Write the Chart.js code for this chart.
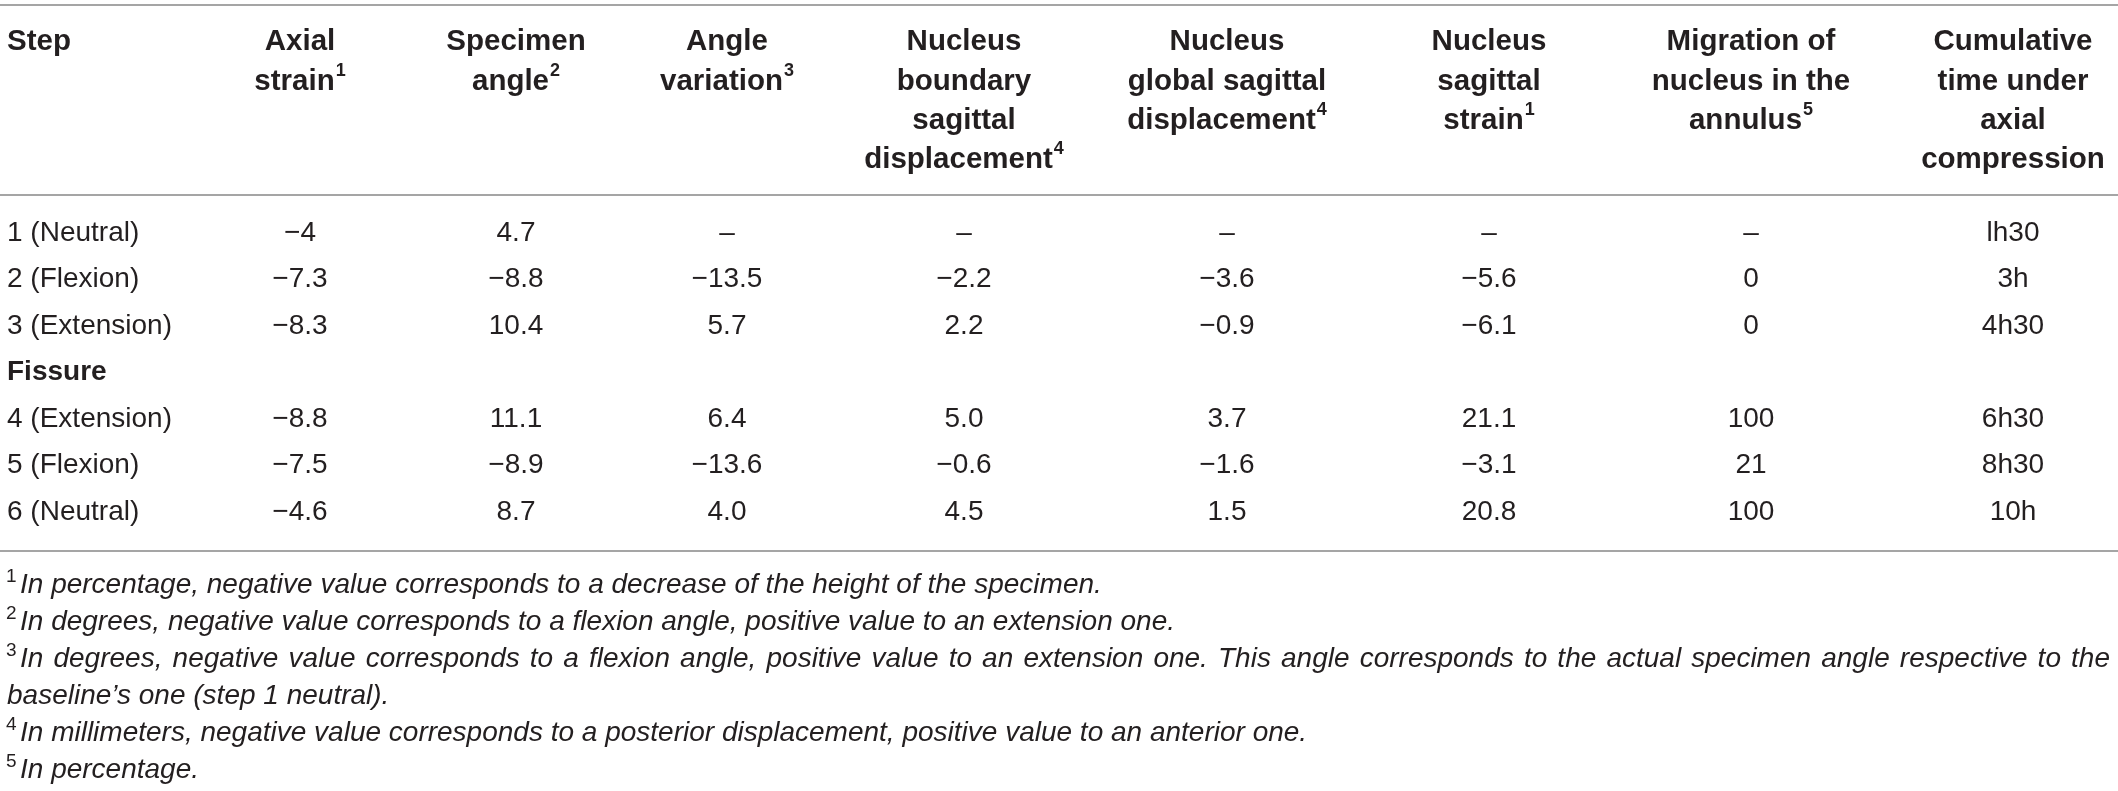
<!DOCTYPE html>
<html>
<head>
<meta charset="utf-8">
<script src="https://cdn.jsdelivr.net/npm/chart.js@4.4.0/dist/chart.umd.min.js"></script>
<style>
  html, body { margin: 0; padding: 0; background: #fff; }
  #wrap { width: 2118px; height: 791px; }
</style>
</head>
<body>
<div id="wrap"><canvas id="table" width="2118" height="791"></canvas></div>
<script>
// table data
const steps = ['1 (Neutral)', '2 (Flexion)', '3 (Extension)', 'Fissure', '4 (Extension)', '5 (Flexion)', '6 (Neutral)'];
const axialStrain = [-4, -7.3, -8.3, null, -8.8, -7.5, -4.6];
const specimenAngle = [4.7, -8.8, 10.4, null, 11.1, -8.9, 8.7];
const angleVariation = [null, -13.5, 5.7, null, 6.4, -13.6, 4.0];
const boundaryDisplacement = [null, -2.2, 2.2, null, 5.0, -0.6, 4.5];
const globalDisplacement = [null, -3.6, -0.9, null, 3.7, -1.6, 1.5];
const sagittalStrain = [null, -5.6, -6.1, null, 21.1, -3.1, 20.8];
const migration = [null, 0, 0, null, 100, 21, 100];
const cumulativeTime = ['lh30', '3h', '4h30', null, '6h30', '8h30', '10h'];
const groupRows = ['Fissure'];

// header lines, [text, superscript]
const headers = [
  [['Step', '']],
  [['Axial', ''], ['strain', '1']],
  [['Specimen', ''], ['angle', '2']],
  [['Angle', ''], ['variation', '3']],
  [['Nucleus', ''], ['boundary', ''], ['sagittal', ''], ['displacement', '4']],
  [['Nucleus', ''], ['global sagittal', ''], ['displacement', '4']],
  [['Nucleus', ''], ['sagittal', ''], ['strain', '1']],
  [['Migration of', ''], ['nucleus in the', ''], ['annulus', '5']],
  [['Cumulative', ''], ['time under', ''], ['axial', ''], ['compression', '']]
];

const footnotes = [
  ['1', 'In percentage, negative value corresponds to a decrease of the height of the specimen.'],
  ['2', 'In degrees, negative value corresponds to a flexion angle, positive value to an extension one.'],
  ['3', 'In degrees, negative value corresponds to a flexion angle, positive value to an extension one. This angle corresponds to the actual specimen angle respective to the'],
  ['', 'baseline\u2019s one (step 1 neutral).'],
  ['4', 'In millimeters, negative value corresponds to a posterior displacement, positive value to an anterior one.'],
  ['5', 'In percentage.']
];

// layout
const colX = [7, 300, 516, 727, 964, 1227, 1489, 1751, 2013];
const headerLineY = [42, 82, 121, 160];
const ruleY = [5, 195, 551];
const noteY = [585, 622, 659, 696, 733, 770];
const INK = '#231f20';
const RULE = '#a5a5a5';
const FONT = '"Liberation Sans", Arial, sans-serif';
const BODY = 28, HEAD = 29.5, NOTE = 28;

const minus = v => String(v).replace('-', '\u2212');
function fmt(v, dec) {
  if (v === null) return '\u2013';
  if (typeof v === 'string') return v;
  return minus(dec === null ? v : v.toFixed(dec));
}

const valueCols = [
  [axialStrain, null], [specimenAngle, null], [angleVariation, 1], [boundaryDisplacement, 1],
  [globalDisplacement, 1], [sagittalStrain, 1], [migration, 0], [cumulativeTime, null]
];

const datasets = [{
  label: 'Step',
  data: steps.map(s => ({ x: colX[0], y: s })),
  cellText: steps.slice(),
  align: 'left'
}];
valueCols.forEach(([arr, dec], c) => {
  const pts = [], txt = [];
  arr.forEach((v, r) => {
    if (groupRows.includes(steps[r])) return;
    pts.push({ x: colX[c + 1], y: steps[r] });
    txt.push(fmt(v, dec));
  });
  datasets.push({ label: headers[c + 1][0][0], data: pts, cellText: txt, align: 'center' });
});

function richWidth(ctx, text, sup, size, weight, style) {
  ctx.font = style + ' ' + weight + ' ' + size + 'px ' + FONT;
  let w = ctx.measureText(text).width;
  if (sup) {
    ctx.font = weight + ' ' + Math.round(size * 0.6) + 'px ' + FONT;
    w += ctx.measureText(sup).width + 1;
  }
  return w;
}
function drawRich(ctx, text, sup, x, y, align, size, weight, style) {
  const w = richWidth(ctx, text, sup, size, weight, style);
  const sx = align === 'center' ? x - w / 2 : x;
  ctx.textAlign = 'left';
  ctx.textBaseline = 'middle';
  ctx.font = style + ' ' + weight + ' ' + size + 'px ' + FONT;
  ctx.fillText(text, sx, y);
  if (sup) {
    const tw = ctx.measureText(text).width;
    ctx.font = weight + ' ' + Math.round(size * 0.6) + 'px ' + FONT;
    ctx.fillText(sup, sx + tw + 1, y - size * 0.38);
  }
}

const tablePlugin = {
  id: 'tablePlugin',
  afterDatasetsDraw(chart) {
    const ctx = chart.ctx;
    const xs = chart.scales.x;
    ctx.save();
    ctx.fillStyle = INK;

    // rules
    ctx.strokeStyle = RULE;
    ctx.lineWidth = 2;
    ruleY.forEach(y => {
      ctx.beginPath();
      ctx.moveTo(0, y);
      ctx.lineTo(chart.width, y);
      ctx.stroke();
    });

    // header
    headers.forEach((lines, c) => {
      const x = xs.getPixelForValue(colX[c]);
      lines.forEach(([t, s], i) => {
        drawRich(ctx, t, s, x, headerLineY[i], c === 0 ? 'left' : 'center', HEAD, 'bold', 'normal');
      });
    });

    // cells
    chart.data.datasets.forEach((ds, i) => {
      const meta = chart.getDatasetMeta(i);
      meta.data.forEach((el, j) => {
        const t = ds.cellText[j];
        const bold = groupRows.includes(t);
        drawRich(ctx, t, '', el.x, el.y, ds.align, BODY, bold ? 'bold' : 'normal', 'normal');
      });
    });

    // footnotes
    const left = 20, right = 2110;
    footnotes.forEach(([n, t], i) => {
      const y = noteY[i];
      ctx.textAlign = 'left';
      ctx.textBaseline = 'middle';
      if (n) {
        ctx.font = 'normal ' + Math.round(NOTE * 0.68) + 'px ' + FONT;
        ctx.fillText(n, 6, y - NOTE * 0.3);
      }
      ctx.font = 'italic normal ' + NOTE + 'px ' + FONT;
      const x0 = n ? left : 7;
      const natural = ctx.measureText(t).width;
      if (i === 2 && natural < right - x0) {
        // first line of note 3 is justified to the full width
        const words = t.split(' ');
        const ww = words.map(w => ctx.measureText(w).width);
        const gap = (right - x0 - ww.reduce((a, b) => a + b, 0)) / (words.length - 1);
        let x = x0;
        words.forEach((w, k) => { ctx.fillText(w, x, y); x += ww[k] + gap; });
      } else {
        ctx.fillText(t, x0, y);
      }
    });
    ctx.restore();
  }
};

new Chart(document.getElementById('table'), {
  type: 'scatter',
  data: { datasets },
  options: {
    responsive: false,
    animation: false,
    layout: { padding: { top: 210, bottom: 256, left: 0, right: 0 } },
    elements: { point: { radius: 0, hoverRadius: 0 } },
    scales: {
      x: { type: 'linear', min: 0, max: 2118, display: false },
      y: { type: 'category', labels: steps, offset: true, display: false }
    },
    plugins: { legend: { display: false }, tooltip: { enabled: false } }
  },
  plugins: [tablePlugin]
});
</script>
</body>
</html>
